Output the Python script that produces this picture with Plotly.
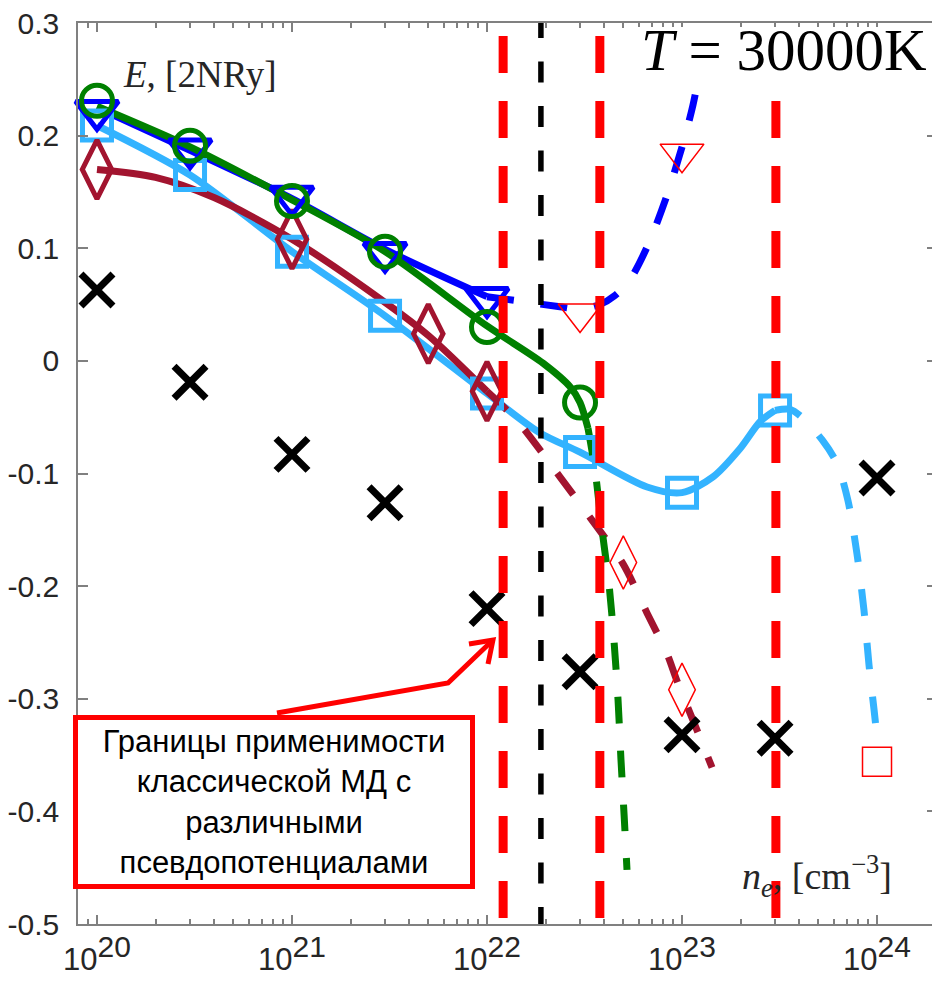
import plotly.graph_objects as go

# ---------------- data ----------------
# marker densities (cm^-3)
n_main = [1e20, 3e20, 1e21, 3e21, 1e22]
E_blue = [0.222, 0.188, 0.146, 0.096, 0.056]
E_green_n = [1e20, 3e20, 1e21, 3e21, 1e22, 3e22]
E_green = [0.231, 0.191, 0.142, 0.097, 0.030, -0.037]
n_lblue = [1e20, 3e20, 1e21, 3e21, 1e22, 3e22, 1e23, 3e23]
E_lblue = [0.209, 0.165, 0.097, 0.040, -0.029, -0.081, -0.117, -0.044]
n_maroon = [1e20, 1e21, 5e21, 1e22]
E_maroon = [0.170, 0.108, 0.024, -0.027]

# extrapolated (open red) markers
n_red_tri = [3e22, 1e23]
E_red_tri = [0.042, 0.184]
n_red_dia = [5e22, 1e23]
E_red_dia = [-0.179, -0.292]
n_red_sq = [1e24]
E_red_sq = [-0.356]

# black crosses
n_cross = [1e20, 3e20, 1e21, 3e21, 1e22, 3e22, 1e23, 3e23, 1e24]
E_cross = [0.063, -0.019, -0.083, -0.126, -0.220, -0.276, -0.332, -0.335, -0.104]

# fitted curves (log10 n, E)
lg_blue_fit = [20.0, 20.477, 21.0, 21.477, 22.0]
E_blue_fit = [0.225, 0.187, 0.144, 0.099, 0.057]
lg_blue_ext = [22.0, 22.169, 22.374, 22.477, 22.579, 22.656, 22.733, 22.826, 22.923, 23.010, 23.056, 23.092]
E_blue_ext = [0.057, 0.053, 0.048, 0.046, 0.050, 0.058, 0.072, 0.103, 0.147, 0.196, 0.227, 0.258]

lg_green_fit = [20.0, 20.477, 21.0, 21.477, 22.0, 22.287, 22.426, 22.477, 22.518]
E_green_fit = [0.226, 0.190, 0.143, 0.097, 0.031, -0.002, -0.023, -0.037, -0.060]
lg_green_ext = [22.518, 22.554, 22.590, 22.626, 22.651, 22.672, 22.687, 22.703, 22.718]
E_green_ext = [-0.060, -0.097, -0.150, -0.199, -0.248, -0.301, -0.354, -0.403, -0.452]

lg_lblue_fit = [20.0, 20.477, 21.0, 21.477, 22.0, 22.272, 22.477, 22.821, 23.0, 23.159, 23.297, 23.400, 23.477]
E_lblue_fit = [0.209, 0.165, 0.097, 0.040, -0.029, -0.064, -0.081, -0.112, -0.117, -0.103, -0.078, -0.054, -0.044]
lg_lblue_ext = [23.477, 23.554, 23.621, 23.718, 23.795, 23.851, 23.897, 23.933, 23.959, 23.985, 24.0]
E_lblue_ext = [-0.044, -0.043, -0.051, -0.070, -0.091, -0.124, -0.171, -0.221, -0.270, -0.310, -0.334]

lg_maroon_fit = [20.0, 20.3, 20.6, 21.0, 21.477, 21.703, 22.0]
E_maroon_fit = [0.170, 0.163, 0.145, 0.108, 0.052, 0.022, -0.027]
lg_maroon_ext = [22.0, 22.154, 22.374, 22.528, 22.697, 22.821, 22.923, 22.974, 23.056, 23.154]
E_maroon_ext = [-0.027, -0.053, -0.103, -0.139, -0.180, -0.224, -0.260, -0.284, -0.319, -0.361]

# vertical boundaries
n_red_bounds = [1.21e22, 3.79e22, 3.03e23]
n_black_bound = [1.89e22]

y_ticks = [-0.5, -0.4, -0.3, -0.2, -0.1, 0, 0.1, 0.2, 0.3]
y_ticktext = ["-0.5", "-0.4", "-0.3", "-0.2", "-0.1", "0", "0.1", "0.2", "0.3"]
x_ticks = [1e20, 1e21, 1e22, 1e23, 1e24]
x_exps = ["20", "21", "22", "23", "24"]

# ---------------- style ----------------
BLUE = "#0000FF"
GREEN = "#008000"
LBLUE = "#33B3FF"
MAROON = "#A2142F"
RED = "#FF0000"
AXC = "#808080"
TXT = "#262626"
SANS = "Liberation Sans, Arial, sans-serif"
SERIF = "Liberation Serif, Times New Roman, serif"
LW = 7
DASH = "27px,27px"

fig = go.Figure()

def pw(lst):
    return [10 ** v for v in lst]

def line(x, y, color, dash=None, width=LW):
    fig.add_trace(go.Scatter(x=x, y=y, mode="lines",
                             line=dict(color=color, width=width, dash=dash, shape="spline", smoothing=0.8),
                             hoverinfo="skip", showlegend=False))

# solid fits
line(pw(lg_lblue_fit), E_lblue_fit, LBLUE)
line(pw(lg_maroon_fit), E_maroon_fit, MAROON)
line(pw(lg_blue_fit), E_blue_fit, BLUE)
line(pw(lg_green_fit), E_green_fit, GREEN)
# dashed extrapolations
line(pw(lg_lblue_ext), E_lblue_ext, LBLUE, DASH)
line(pw(lg_maroon_ext), E_maroon_ext, MAROON, DASH)
line(pw(lg_blue_ext), E_blue_ext, BLUE, DASH)
line(pw(lg_green_ext), E_green_ext, GREEN, DASH)

def markers(x, y, symbol, color, size, lw):
    fig.add_trace(go.Scatter(x=x, y=y, mode="markers",
                             marker=dict(symbol=symbol, size=size, color=color,
                                         line=dict(color=color, width=lw)),
                             hoverinfo="skip", showlegend=False, cliponaxis=False))

markers(n_lblue, E_lblue, "square-open", LBLUE, 29, 5)
markers(n_maroon, E_maroon, "diamond-tall-open", MAROON, 42, 5)
markers(n_main, E_blue, "triangle-down-open", BLUE, 37, 5)
markers(E_green_n, E_green, "circle-open", GREEN, 31, 5)

markers(n_red_tri, E_red_tri, "triangle-down-open", RED, 38, 1.5)
markers(n_red_dia, E_red_dia, "diamond-tall-open", RED, 38, 1.5)
markers(n_red_sq, E_red_sq, "square-open", RED, 29, 1.5)

markers(n_cross, E_cross, "x-thin", "black", 32, 7)

# vertical boundary lines
Y_TOP_RED = 0.3462
Y_TOP_BLACK = 0.3053
for nb in n_red_bounds:
    fig.add_trace(go.Scatter(x=[nb, nb], y=[Y_TOP_RED, -0.56], mode="lines",
                             line=dict(color=RED, width=9, dash="37px,28px"),
                             hoverinfo="skip", showlegend=False))
for nb in n_black_bound:
    fig.add_trace(go.Scatter(x=[nb, nb], y=[Y_TOP_BLACK, -0.56], mode="lines",
                             line=dict(color="black", width=5.5, dash="21px,23.5px"),
                             hoverinfo="skip", showlegend=False))

# dummy for right-side ticks axis
fig.add_trace(go.Scatter(x=[1e20], y=[0], yaxis="y2", mode="markers",
                         marker=dict(opacity=0), hoverinfo="skip", showlegend=False))

x_ticktext = ["10<sup><span style='font-size:30px'>%s</span></sup>" % e for e in x_exps]

fig.update_layout(
    width=932, height=981,
    margin=dict(l=78, r=0, t=23, b=57),
    paper_bgcolor="white", plot_bgcolor="white",
    showlegend=False,
    xaxis=dict(type="log", range=[19.9026, 24.282],
               tickmode="array", tickvals=x_ticks, ticktext=x_ticktext,
               ticks="inside", ticklen=9, tickwidth=1.5, tickcolor=AXC,
               showline=True, linecolor=AXC, linewidth=1.5, mirror="ticks",
               showgrid=False, zeroline=False,
               tickfont=dict(family=SANS, size=31, color=TXT),
               ticklabelstandoff=7,
               minor=dict(ticks="inside", ticklen=5, tickwidth=1.5, tickcolor=AXC,
                          dtick="D1", showgrid=False)),
    yaxis=dict(range=[-0.5, 0.3], tickmode="array", tickvals=y_ticks, ticktext=y_ticktext,
               ticks="inside", ticklen=10, tickwidth=1.5, tickcolor=AXC,
               showline=True, linecolor=AXC, linewidth=1.5, mirror=False,
               showgrid=False, zeroline=False,
               tickfont=dict(family=SANS, size=30, color=TXT),
               ticklabelstandoff=11),
    yaxis2=dict(range=[-0.5, 0.3], overlaying="y", side="right", anchor="x",
                tickmode="array", tickvals=y_ticks, ticks="inside", ticklen=5,
                tickwidth=1.5, tickcolor=AXC, showticklabels=False,
                showline=False, showgrid=False, zeroline=False),
)

# white background behind the temperature label
fig.add_shape(type="rect", xref="paper", yref="paper",
              x0=0.649, x1=1.0, y0=0.941, y1=0.9956,
              fillcolor="white", line=dict(width=0), layer="above")

fig.add_annotation(xref="paper", yref="paper", x=0.996, y=0.970,
                   xanchor="right", yanchor="middle", showarrow=False,
                   text="<i>T</i> = 30000K",
                   font=dict(family=SERIF, size=59, color="black"))
fig.add_annotation(xref="paper", yref="paper", x=0.1429, y=0.943,
                   xanchor="center", yanchor="middle", showarrow=False,
                   text="<i>E</i>, [2NRy]",
                   font=dict(family=SERIF, size=37, color=TXT))
fig.add_annotation(xref="paper", yref="paper", x=0.865, y=0.053,
                   xanchor="center", yanchor="middle", showarrow=False,
                   text="<i>n</i><sub><i>e</i></sub>, [cm<sup>\u22123</sup>]",
                   font=dict(family=SERIF, size=38, color=TXT))

# red callout box
fig.add_annotation(xref="paper", yref="paper", x=0.2295, y=0.1354,
                   xanchor="center", yanchor="middle", showarrow=False,
                   text="Границы применимости<br>классической МД с<br>различными<br>псевдопотенциалами",
                   font=dict(family=SANS, size=31, color="black"),
                   width=388, height=160, align="center", valign="middle",
                   bgcolor="white", bordercolor=RED, borderwidth=5, borderpad=2)

# bent arrow from the box to the first boundary (paper coordinates)
fig.add_shape(type="path", xref="paper", yref="paper", layer="above",
              path="M 0.2330,0.2342 L 0.4333,0.2675 L 0.4859,0.3152",
              line=dict(color=RED, width=5))
fig.add_shape(type="path", xref="paper", yref="paper", layer="above",
              path="M 0.4801,0.2886 L 0.4859,0.3152 L 0.4578,0.3108",
              line=dict(color=RED, width=5))

fig.write_html("out.html")
